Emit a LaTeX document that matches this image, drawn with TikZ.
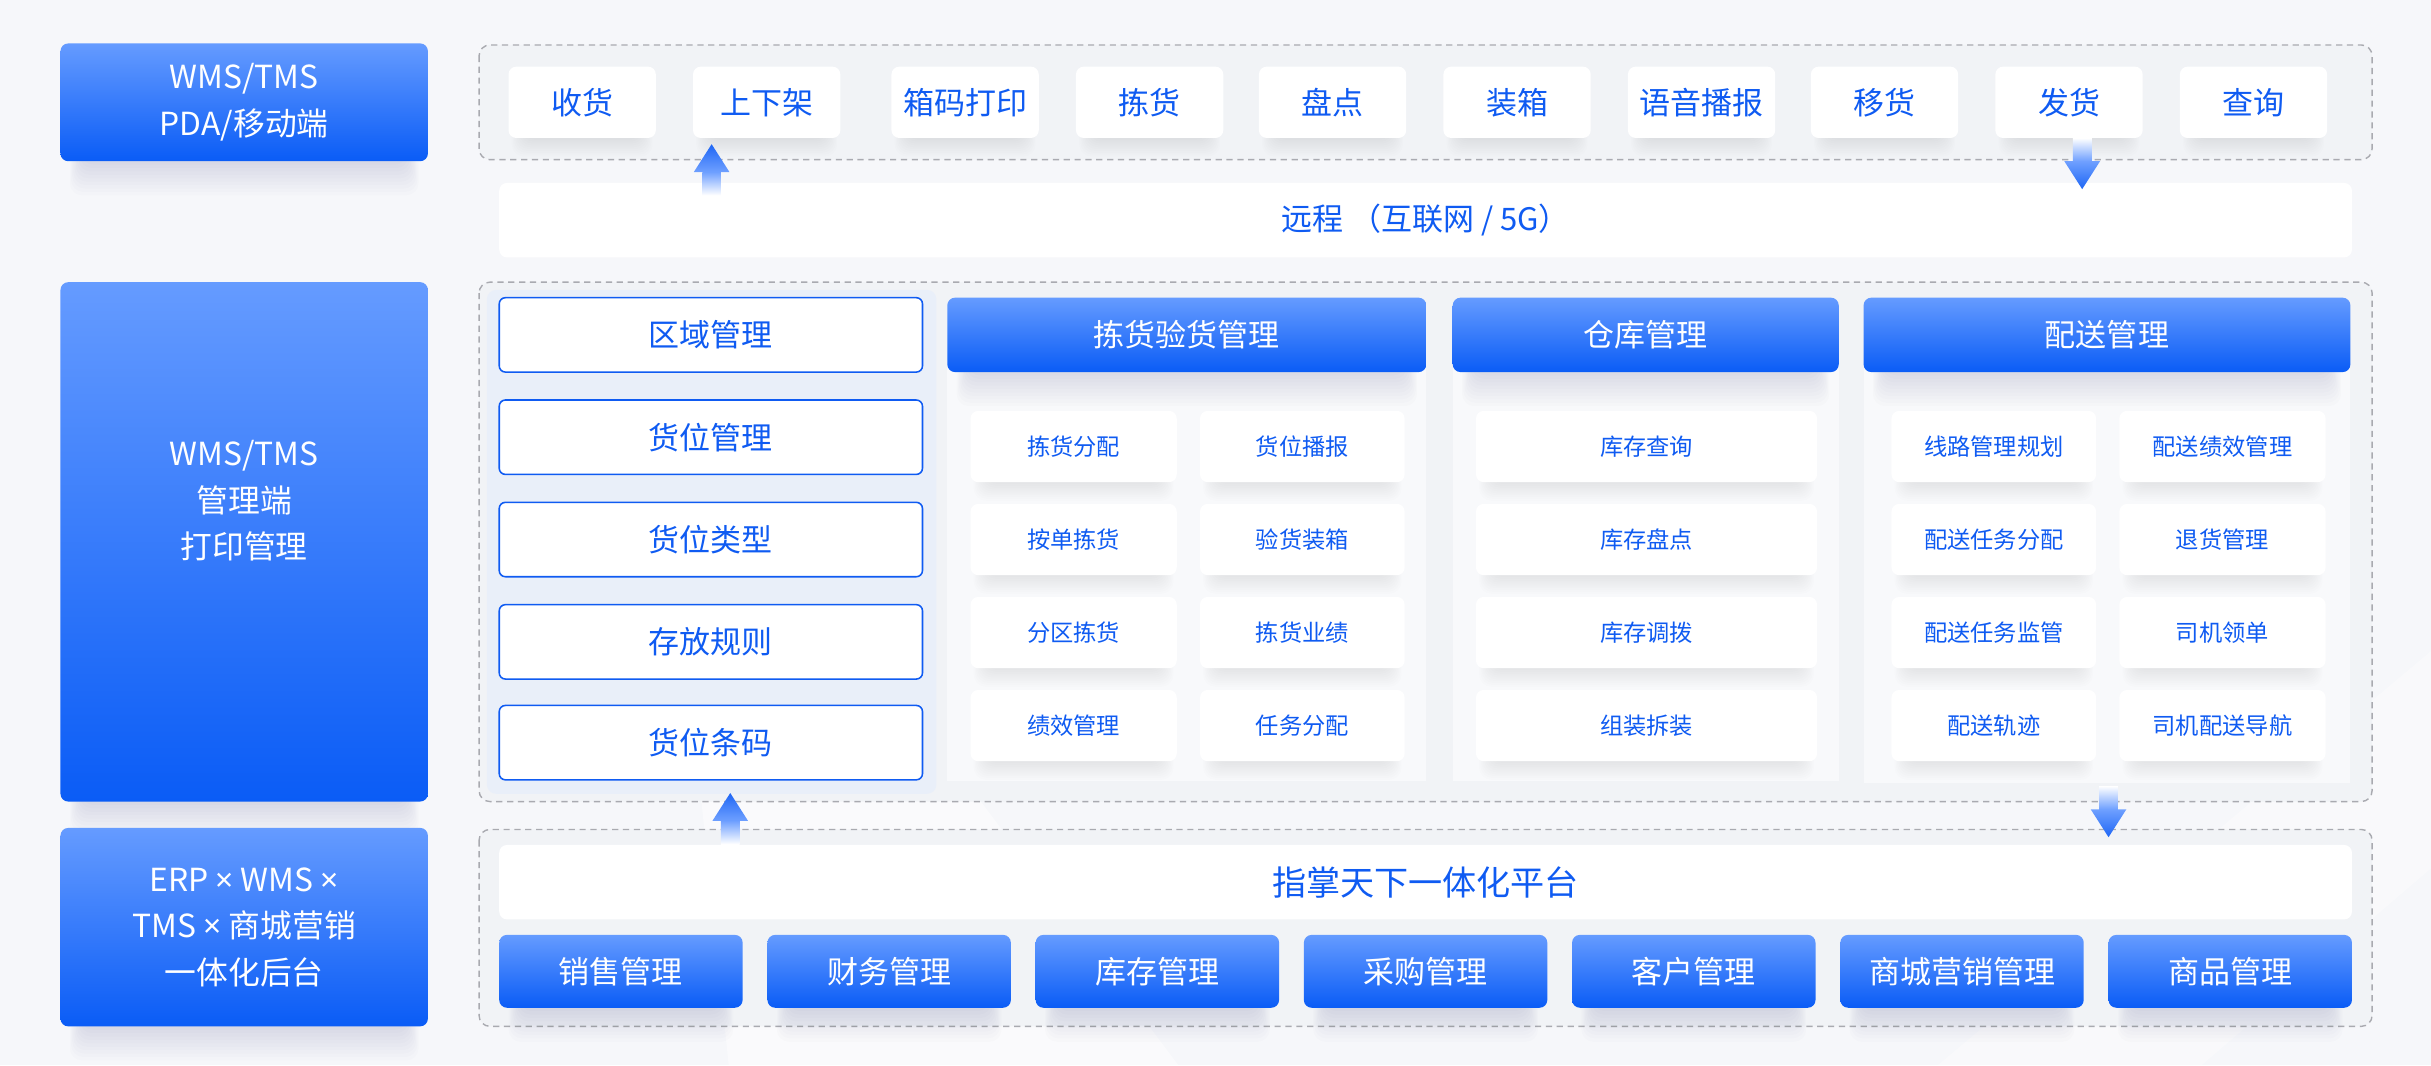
\documentclass[tikz,border=0pt]{standalone}
\usepackage{fontspec}
\setmainfont{Noto Sans CJK SC}
\newfontfamily\latinf{Noto Sans}
\usetikzlibrary{calc}
\pgfdeclarelayer{bgl}
\pgfdeclarelayer{shl}
\pgfsetlayers{bgl,shl,main}
\definecolor{bgc}{HTML}{F6F7FA}
\definecolor{cont}{HTML}{F1F3F6}
\definecolor{btop}{HTML}{659BFF}
\definecolor{bbot}{HTML}{0A5CF6}
\definecolor{txtb}{HTML}{0F5BF2}
\definecolor{dashc}{HTML}{A9AAB0}
\definecolor{panel}{HTML}{F8F9FB}
\definecolor{glow}{HTML}{E8EEFA}
\definecolor{ahead}{HTML}{1E66F5}
\definecolor{amid}{HTML}{6FA0FF}
\definecolor{shc}{HTML}{1A2A50}
\newcommand\xx{{\latinf ×}}
\newcommand\softsh[4]{%
  \foreach \k in {1,...,10}{
    \fill[shc, opacity=#4, rounded corners=8pt]
      ($(#1.south west)+({#2-0.8*\k},-16)$) rectangle ($(#1.south east)+({-#2+0.8*\k},{#3*\k/10})$);
  }}
\tikzset{
  box/.style={anchor=north west, inner sep=0pt, outer sep=0pt, rounded corners=5pt, align=center},
  bluebox/.style={box, top color=btop, bottom color=bbot, text=white},
  whitebtn/.style={box, fill=white, text=txtb},
  listbox/.style={box, fill=white, draw=txtb, line width=1pt, text=txtb, rounded corners=4pt,
    minimum width=273pt, minimum height=48pt, font=\fontsize{20}{24}\selectfont},
  container/.style={draw=dashc, dashed, dash pattern=on 4pt off 3pt, line width=0.9pt, rounded corners=7pt, fill=cont},
  fsA/.style={font=\fontsize{20}{24}\selectfont},
  fsB/.style={font=\fontsize{15}{18}\selectfont},
  lbl/.style={text=white, align=center, font=\fontsize{20.5}{30}\selectfont},
  uparrow/.pic={
    \shade[top color=ahead, bottom color=amid] (0,0) -- (11.5,18) -- (-11.5,18) -- cycle;
    \shade[top color=amid, bottom color=white] (-6,18) rectangle (6,33);
  },
  downarrow/.pic={
    \shade[top color=white, bottom color=amid] (-6,-33) rectangle (6,-18);
    \shade[top color=amid, bottom color=ahead] (0,0) -- (11.5,-18) -- (-11.5,-18) -- cycle;
  },
}
\begin{document}
\begin{tikzpicture}[x=1pt, y=-1pt]
\begin{pgfonlayer}{bgl}
\path[use as bounding box, fill=bgc] (0,0) rectangle (1568,687);
% faint background bands
\fill[white, opacity=0.45] (470,687) -- (760,687) -- (560,420) -- (430,300) -- cycle;
\fill[white, opacity=0.35] (1250,687) -- (1568,420) -- (1568,560) -- (1420,687) -- cycle;
% containers
\draw[container] (309,29) rectangle (1530,103);
\draw[container] (309,182) rectangle (1530,517);
\draw[container] (309,535) rectangle (1530,662);
\fill[glow, opacity=0.8, rounded corners=6pt] (314,187) rectangle (604,512);
\fill[panel] (611,232) rectangle (920,504);
\fill[panel] (937,232) rectangle (1186,504);
\fill[panel] (1202,232) rectangle (1516,505);
\end{pgfonlayer}

% ---------- left column ----------
\node[bluebox, minimum width=237pt, minimum height=76pt] (L1) at (39,28) {};
\node[lbl] (L1t) at (L1.center) {WMS/TMS\\PDA/移动端};
\node[bluebox, minimum width=237pt, minimum height=335pt] (L2) at (39,182) {};
\node[lbl] (L2t) at (157.5,323) {WMS/TMS\\管理端\\打印管理};
\node[bluebox, minimum width=237pt, minimum height=128pt] (L3) at (39,534) {};
\node[lbl] (L3t) at (L3.center) {ERP \xx{} WMS \xx\\TMS \xx{} 商城营销\\一体化后台};

% ---------- top row ----------
\foreach \x/\t [count=\i] in {328/收货, 447/上下架, 575/箱码打印, 694/拣货, 812/盘点, 931/装箱, 1050/语音播报, 1168/移货, 1287/发货, 1406/查询}
  \node[whitebtn, fsA, minimum width=95pt, minimum height=46pt] (t\i) at (\x,43) {\t};

% remote bar
\node[box, fill=white, text=txtb, fsA, minimum width=1195pt, minimum height=48pt] (remote) at (322,118) {远程 （互联网 / 5G）};

% ---------- middle section ----------
\foreach \y/\t [count=\i] in {192/区域管理, 258/货位管理, 324/货位类型, 390/存放规则, 455/货位条码}
  \node[listbox] (m\i) at (322,\y) {\t};

\node[bluebox, fsA, minimum width=309pt, minimum height=48pt] (h1) at (611,192) {拣货验货管理};
\node[bluebox, fsA, minimum width=249pt, minimum height=48pt] (h2) at (937,192) {仓库管理};
\node[bluebox, fsA, minimum width=314pt, minimum height=48pt] (h3) at (1202,192) {配送管理};

\foreach \y/\a/\b [count=\i] in {265/拣货分配/货位播报, 325/按单拣货/验货装箱, 385/分区拣货/拣货业绩, 445/绩效管理/任务分配}{
  \node[whitebtn, fsB, minimum width=133pt, minimum height=46pt] (pa\i) at (626,\y) {\a};
  \node[whitebtn, fsB, minimum width=132pt, minimum height=46pt] (pb\i) at (774,\y) {\b};
}
\foreach \y/\a [count=\i] in {265/库存查询, 325/库存盘点, 385/库存调拨, 445/组装拆装}
  \node[whitebtn, fsB, minimum width=220pt, minimum height=46pt] (w\i) at (952,\y) {\a};
\foreach \y/\a/\b [count=\i] in {265/线路管理规划/配送绩效管理, 325/配送任务分配/退货管理, 385/配送任务监管/司机领单, 445/配送轨迹/司机配送导航}{
  \node[whitebtn, fsB, minimum width=132pt, minimum height=46pt] (da\i) at (1220,\y) {\a};
  \node[whitebtn, fsB, minimum width=133pt, minimum height=46pt] (db\i) at (1367,\y) {\b};
}

% ---------- bottom section ----------
\node[box, fill=white, text=txtb, font=\fontsize{22}{26}\selectfont, minimum width=1195pt, minimum height=48pt] (platform) at (322,545) {指掌天下一体化平台};
\foreach \t [count=\i] in {销售管理, 财务管理, 库存管理, 采购管理, 客户管理, 商城营销管理, 商品管理}
  \node[bluebox, fsA, minimum width=157pt, minimum height=47pt] (b\i) at ({322+173*(\i-1)},603) {\t};

% ---------- soft shadows ----------
\begin{pgfonlayer}{shl}
\foreach \n in {L1,L2,L3,h1,h2,h3,b1,b2,b3,b4,b5,b6,b7}
  \softsh{\n}{14}{22}{0.011};
\foreach \n in {t1,t2,t3,t4,t5,t6,t7,t8,t9,t10,pa1,pa2,pa3,pa4,pb1,pb2,pb3,pb4,w1,w2,w3,w4,da1,da2,da3,da4,db1,db2,db3,db4}
  \softsh{\n}{10}{12}{0.006};
\end{pgfonlayer}

% ---------- arrows ----------
\coordinate (upA) at (459,93);
\coordinate (dnA) at (1343,122);
\coordinate (upB) at (471,511.5);
\coordinate (dnB) at (1360,540);
\pic at (upA) {uparrow};
\pic at (dnA) {downarrow};
\pic at (upB) {uparrow};
\pic at (dnB) {downarrow};
\end{tikzpicture}
\end{document}
